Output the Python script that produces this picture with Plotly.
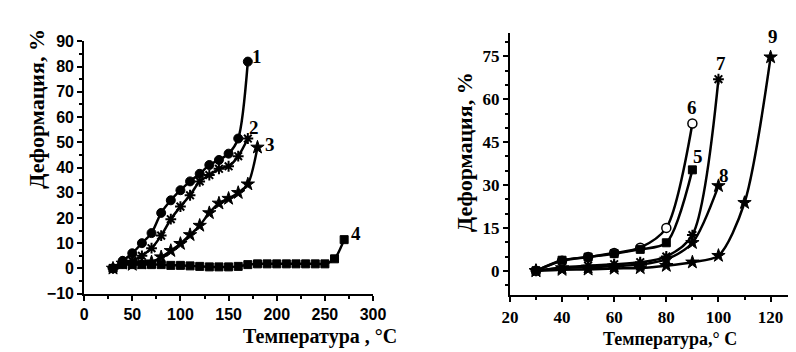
import plotly.graph_objects as go

# ---- Left panel data ----
x1 = [30, 40, 50, 60, 70, 80, 90, 100, 110, 120, 130, 140, 150, 160, 170]
y1 = [0, 3, 6, 10, 14, 22, 27, 31, 34.5, 37.5, 41, 43, 45.5, 51.5, 82]
x2 = [30, 40, 50, 60, 70, 80, 90, 100, 110, 120, 130, 140, 150, 160, 170]
y2 = [0, 2, 3, 5, 8, 13, 19.5, 24.5, 29, 34.5, 37, 39.5, 40.5, 44.5, 51.5]
x3 = [30, 40, 50, 60, 70, 80, 90, 100, 110, 120, 130, 140, 150, 160, 170, 180]
y3 = [0, 2, 1.5, 2, 2.5, 4.5, 7, 9.8, 13.3, 17, 22, 25.8, 27.7, 30, 33.4, 48]
x4 = [30, 40, 50, 60, 70, 80, 90, 100, 110, 120, 130, 140, 150, 160, 170, 180,
      190, 200, 210, 220, 230, 240, 250, 260, 270]
y4 = [0, 1.5, 1.5, 1.5, 1.5, 1.5, 1.2, 1.2, 1.0, 0.8, 0.6, 0.6, 0.6, 0.8, 1.5, 1.8,
      1.8, 1.8, 1.8, 1.8, 1.8, 1.8, 1.8, 3.8, 11.4]

# ---- Right panel data ----
x5 = [30, 40, 50, 60, 70, 80, 90]
y5 = [0, 3.7, 4.8, 6.0, 7.5, 9.8, 35.3]
x6 = [30, 40, 50, 60, 70, 80, 90]
y6 = [0, 3.5, 4.8, 6.2, 8.1, 15, 51.5]
x7 = [30, 40, 50, 60, 70, 80, 90, 100]
y7 = [0, 1.2, 1.8, 2.3, 3.0, 5.0, 12.5, 67]
x8 = [30, 40, 50, 60, 70, 80, 90, 100]
y8 = [0, 1.0, 1.2, 1.6, 2.2, 4.0, 9.8, 29.7]
x9 = [30, 40, 50, 60, 70, 80, 90, 100, 110, 120]
y9 = [0, 0.4, 0.5, 0.8, 1.0, 1.8, 3.0, 5.3, 23.8, 74.7]

left_xticks = [0, 50, 100, 150, 200, 250, 300]
left_yticks = [-10, 0, 10, 20, 30, 40, 50, 60, 70, 80, 90]
right_xticks = [20, 40, 60, 80, 100, 120]
right_yticks = [0, 15, 30, 45, 60, 75]

y_title = "Деформация, %"
x_title_left = "Температура , °C"
x_title_right = "Температура,° C"

BLACK = "#000000"
fig = go.Figure()

def add(x, y, symbol, xa, ya, size=9, fill=BLACK, lw=1):
    fig.add_trace(go.Scatter(
        x=x, y=y, mode="lines+markers", xaxis=xa, yaxis=ya,
        line=dict(color=BLACK, width=2.5, shape="spline", smoothing=0.8),
        marker=dict(symbol=symbol, size=size, color=fill,
                    line=dict(color=BLACK, width=lw)),
        showlegend=False, cliponaxis=False))

add(x4, y4, "square", "x", "y", size=8)
add(x3, y3, "star", "x", "y", size=10)
add(x2, y2, "asterisk-open", "x", "y", size=9, lw=2)
add(x1, y1, "circle", "x", "y", size=9)

add(x9, y9, "star", "x2", "y2", size=10)
add(x8, y8, "star", "x2", "y2", size=10)
add(x7, y7, "asterisk-open", "x2", "y2", size=9, lw=2)
add(x6, y6, "circle", "x2", "y2", size=9, fill="#ffffff", lw=1.5)
add(x5, y5, "square", "x2", "y2", size=8)

sans_bold = dict(family="Liberation Sans", size=16, color=BLACK, weight="bold")
serif_bold = dict(family="Liberation Serif", size=17, color=BLACK, weight="bold")

axis_common = dict(showgrid=False, zeroline=False, showline=True, linecolor=BLACK,
                   linewidth=2, ticks="outside", ticklen=5, tickwidth=2,
                   tickcolor=BLACK, mirror=False)

fig.update_layout(
    width=796, height=352, margin=dict(l=0, r=0, t=0, b=0),
    paper_bgcolor="white", plot_bgcolor="white",
    xaxis=dict(domain=[0.0879, 0.4607], range=[0, 300], tickvals=left_xticks,
               anchor="y", tickfont=sans_bold,
               minor=dict(dtick=25, ticks="outside", ticklen=3, tickcolor=BLACK),
               **axis_common),
    yaxis=dict(domain=[0.1713, 0.9241], range=[-10, 90], tickvals=left_yticks,
               anchor="x", tickfont=sans_bold,
               minor=dict(dtick=5, ticks="outside", ticklen=3, tickcolor=BLACK),
               **axis_common),
    xaxis2=dict(domain=[0.6373, 0.9962], range=[20, 126.7], tickvals=right_xticks,
                anchor="y2", tickfont=serif_bold,
                minor=dict(dtick=10, ticks="outside", ticklen=3, tickcolor=BLACK),
                **axis_common),
    yaxis2=dict(domain=[0.1668, 0.948], range=[-8.5, 83], tickvals=right_yticks,
                anchor="x2", tickfont=serif_bold,
                minor=dict(dtick=5, ticks="outside", ticklen=3, tickcolor=BLACK),
                **axis_common),
)

ytitle_font = dict(family="Liberation Serif", size=22, color=BLACK, weight="bold")
xtitle_font = dict(family="Liberation Serif", size=20, color=BLACK, weight="bold")
xtitle_font_r = dict(family="Liberation Serif", size=18, color=BLACK, weight="bold")
label_font = dict(family="Liberation Serif", size=19, color=BLACK, weight="bold")

ann = [
    dict(text=y_title, x=21 / 796, y=1 - 97 / 352, textangle=-90, font=ytitle_font),
    dict(text=x_title_left, x=312 / 796, y=1 - 337 / 352, font=xtitle_font),
    dict(text=y_title, x=460 / 796, y=1 - 143 / 352, textangle=-90, font=ytitle_font),
    dict(text=x_title_right, x=672 / 796, y=1 - 339 / 352, font=xtitle_font_r),
]
for a in ann:
    a.update(xref="paper", yref="paper", showarrow=False, xanchor="center", yanchor="middle")
    fig.add_annotation(**a)

curve_labels = [
    ("1", 180, 84, "x", "y"), ("2", 176, 56, "x", "y"), ("3", 193, 49, "x", "y"),
    ("4", 282, 14, "x", "y"),
    ("6", 90, 57, "x2", "y2"), ("5", 92, 40, "x2", "y2"), ("7", 101, 72.5, "x2", "y2"),
    ("8", 102, 33.5, "x2", "y2"), ("9", 121, 82, "x2", "y2"),
]
for t, x, y, xr, yr in curve_labels:
    fig.add_annotation(text=t, x=x, y=y, xref=xr, yref=yr, showarrow=False,
                       font=label_font)

fig.write_html("out.html")
